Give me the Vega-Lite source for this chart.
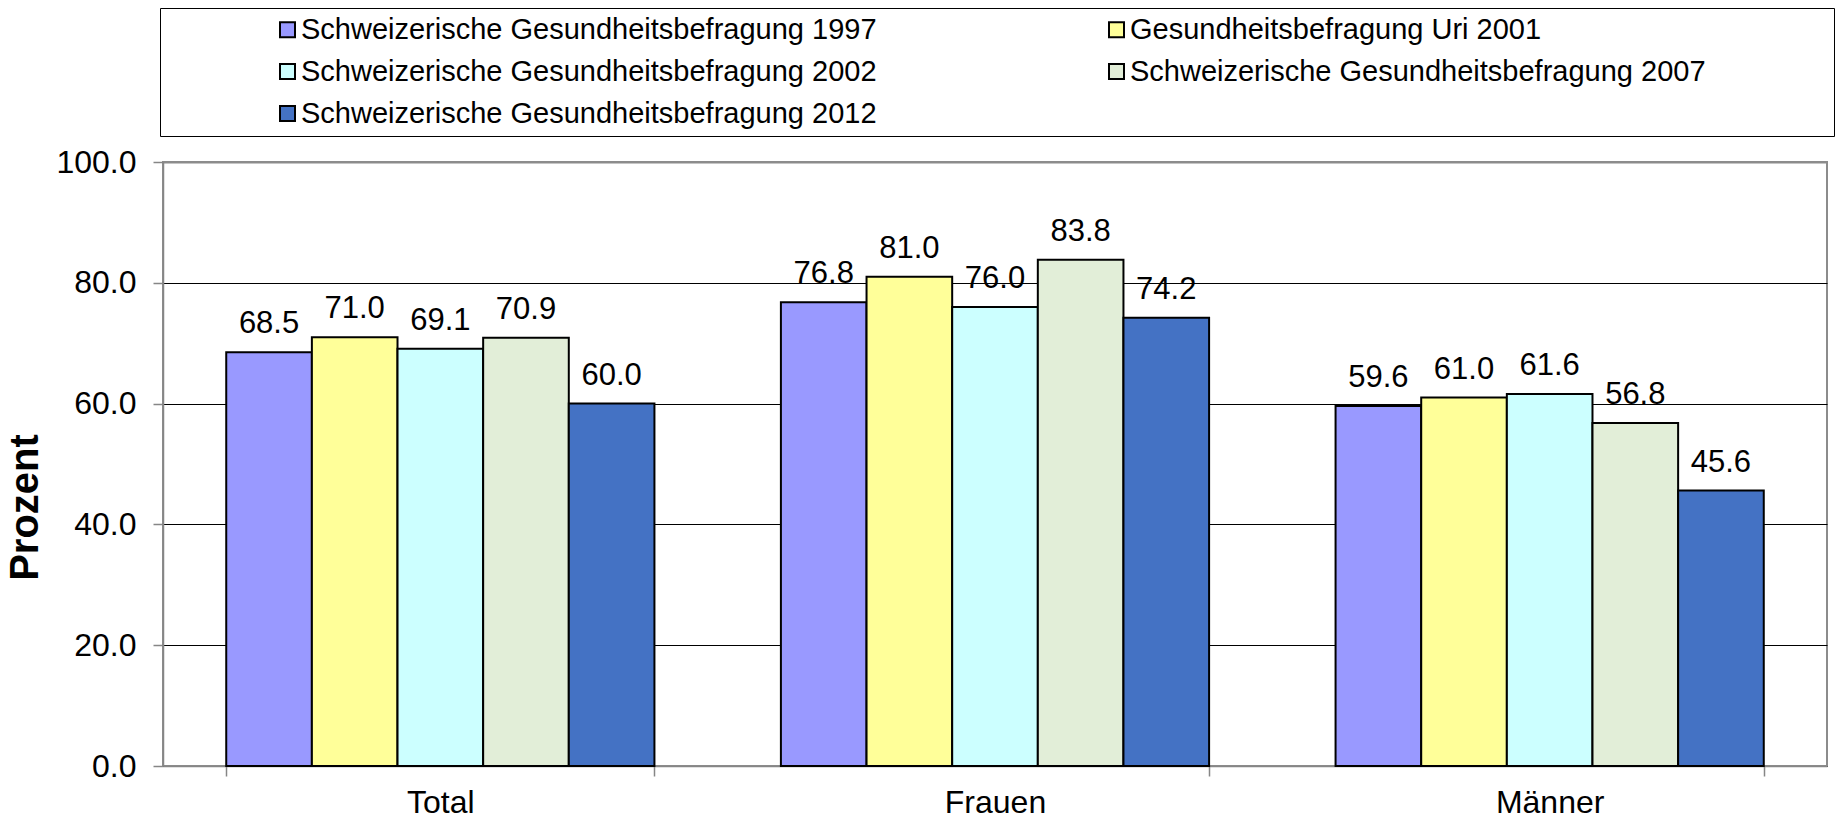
{
  "$schema": "https://vega.github.io/schema/vega-lite/v6.json",
  "autosize": {"type": "none"},
  "width": 1664,
  "height": 604,
  "padding": {"left": 163, "top": 162, "right": 8, "bottom": 53},
  "background": "white",
  "config": {
    "font": "Liberation Sans",
    "view": {"stroke": "#8c8c8c", "strokeWidth": 2}
  },
  "data": {
    "values": [
      {"gruppe": "Total", "survey": "Schweizerische Gesundheitsbefragung 1997", "prozent": 68.5},
      {"gruppe": "Total", "survey": "Gesundheitsbefragung Uri 2001", "prozent": 71.0},
      {"gruppe": "Total", "survey": "Schweizerische Gesundheitsbefragung 2002", "prozent": 69.1},
      {"gruppe": "Total", "survey": "Schweizerische Gesundheitsbefragung 2007", "prozent": 70.9},
      {"gruppe": "Total", "survey": "Schweizerische Gesundheitsbefragung 2012", "prozent": 60.0},
      {"gruppe": "Frauen", "survey": "Schweizerische Gesundheitsbefragung 1997", "prozent": 76.8},
      {"gruppe": "Frauen", "survey": "Gesundheitsbefragung Uri 2001", "prozent": 81.0},
      {"gruppe": "Frauen", "survey": "Schweizerische Gesundheitsbefragung 2002", "prozent": 76.0},
      {"gruppe": "Frauen", "survey": "Schweizerische Gesundheitsbefragung 2007", "prozent": 83.8},
      {"gruppe": "Frauen", "survey": "Schweizerische Gesundheitsbefragung 2012", "prozent": 74.2},
      {"gruppe": "Männer", "survey": "Schweizerische Gesundheitsbefragung 1997", "prozent": 59.6},
      {"gruppe": "Männer", "survey": "Gesundheitsbefragung Uri 2001", "prozent": 61.0},
      {"gruppe": "Männer", "survey": "Schweizerische Gesundheitsbefragung 2002", "prozent": 61.6},
      {"gruppe": "Männer", "survey": "Schweizerische Gesundheitsbefragung 2007", "prozent": 56.8},
      {"gruppe": "Männer", "survey": "Schweizerische Gesundheitsbefragung 2012", "prozent": 45.6}
    ]
  },
  "encoding": {
    "x": {
      "field": "gruppe",
      "type": "nominal",
      "sort": ["Total", "Frauen", "Männer"],
      "scale": {"paddingInner": 0.228, "paddingOuter": 0.114},
      "axis": {
        "title": null,
        "labelAngle": 0,
        "labelFontSize": 32,
        "labelColor": "black",
        "labelPadding": 11,
        "tickBand": "extent",
        "tickSize": 10,
        "tickColor": "#868686",
        "tickWidth": 1.5,
        "domainColor": "#868686",
        "domainWidth": 1.5
      }
    },
    "xOffset": {
      "field": "survey",
      "type": "nominal",
      "sort": [
        "Schweizerische Gesundheitsbefragung 1997",
        "Gesundheitsbefragung Uri 2001",
        "Schweizerische Gesundheitsbefragung 2002",
        "Schweizerische Gesundheitsbefragung 2007",
        "Schweizerische Gesundheitsbefragung 2012"
      ],
      "scale": {"paddingInner": 0, "paddingOuter": 0}
    },
    "y": {
      "field": "prozent",
      "type": "quantitative",
      "scale": {"domain": [0, 100], "nice": false},
      "axis": {
        "title": "Prozent",
        "titleFontSize": 40,
        "titleFontWeight": "bold",
        "titleColor": "black",
        "titleAngle": 270,
        "titleAlign": "center",
        "titleBaseline": "middle",
        "titleX": -138,
        "titleY": 345,
        "values": [0, 20, 40, 60, 80, 100],
        "format": ".1f",
        "labelFontSize": 32,
        "labelColor": "black",
        "labelPadding": 17,
        "tickSize": 10,
        "tickColor": "#868686",
        "tickWidth": 1.5,
        "domainColor": "#868686",
        "domainWidth": 1.5,
        "grid": true,
        "gridColor": {"condition": {"test": "datum.value === 100", "value": "#8c8c8c"}, "value": "black"},
        "gridWidth": {"condition": {"test": "datum.value === 100", "value": 2}, "value": 1}
      }
    }
  },
  "layer": [
    {
      "mark": {"type": "bar", "stroke": "black", "strokeWidth": 2},
      "encoding": {
        "color": {
          "field": "survey",
          "type": "nominal",
          "scale": {
            "domain": [
              "Schweizerische Gesundheitsbefragung 1997",
              "Gesundheitsbefragung Uri 2001",
              "Schweizerische Gesundheitsbefragung 2002",
              "Schweizerische Gesundheitsbefragung 2007",
              "Schweizerische Gesundheitsbefragung 2012"
            ],
            "range": ["#9999ff", "#ffff99", "#ccffff", "#e2eed8", "#4472c4"]
          },
          "legend": {
            "orient": "none",
            "legendX": -3,
            "legendY": -154,
            "direction": "horizontal",
            "columns": 2,
            "title": " ",
            "titleFontSize": 1,
            "titleOrient": "left",
            "titlePadding": 106,
            "padding": 7,
            "strokeColor": "black",
            "fillColor": "white",
            "symbolType": "square",
            "symbolSize": 225,
            "symbolStrokeColor": "black",
            "symbolStrokeWidth": 2,
            "symbolOpacity": 1,
            "labelFontSize": 29,
            "labelColor": "black",
            "labelOffset": -1,
            "labelLimit": 0,
            "rowPadding": 12,
            "columnPadding": 225,
            "labelExpr": "indexof(datum.label, 'Uri') >= 0 || indexof(datum.label, '2007') >= 0 ? datum.label + '\u00a0\u00a0\u00a0\u00a0\u00a0\u00a0\u00a0\u00a0\u00a0\u00a0\u00a0\u00a0\u00a0\u00a0\u00a0\u200b' : datum.label"
          }
        }
      }
    },
    {
      "mark": {"type": "text", "baseline": "alphabetic", "align": "center", "dy": -19, "fontSize": 31, "color": "black"},
      "encoding": {
        "text": {"field": "prozent", "type": "quantitative", "format": ".1f"}
      }
    }
  ]
}
